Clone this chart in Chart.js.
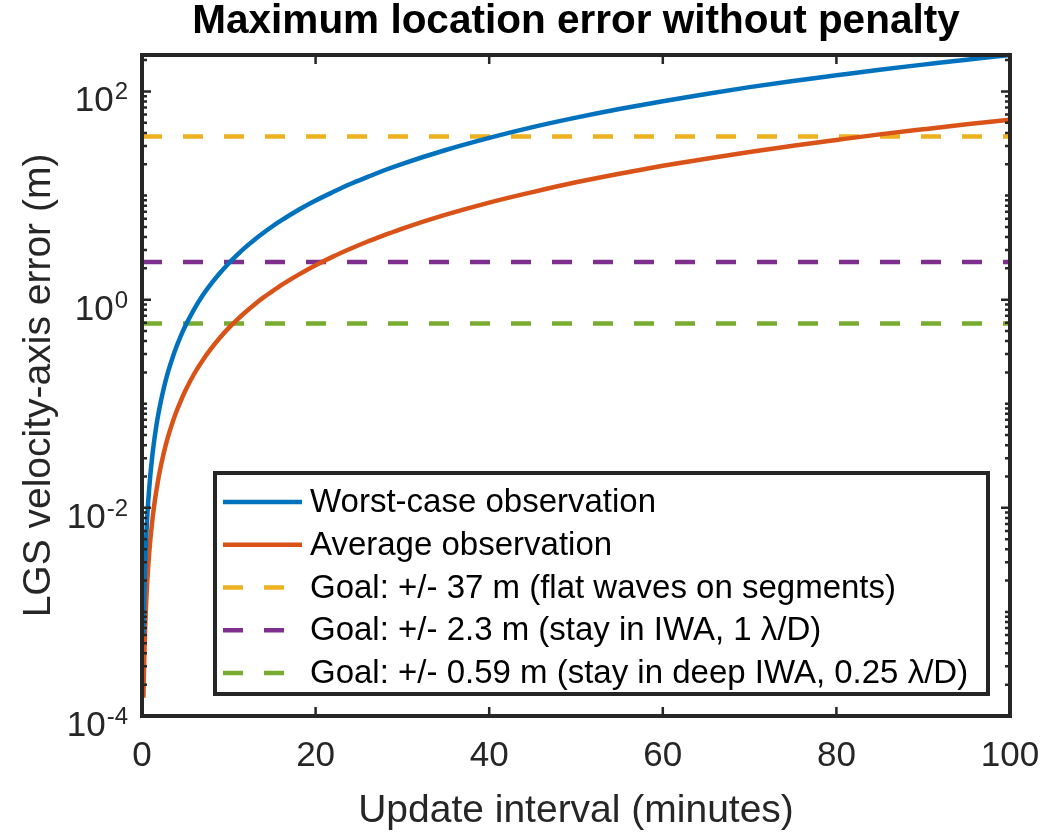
<!DOCTYPE html>
<html>
<head>
<meta charset="utf-8">
<script src="https://cdn.jsdelivr.net/npm/chart.js@4.4.1/dist/chart.umd.min.js"></script>
<style>
  html, body { margin: 0; padding: 0; background: #ffffff; }
  #wrap { width: 1046px; height: 835px; position: relative; }
</style>
</head>
<body>
<div id="wrap"><canvas id="c" width="1046" height="835"></canvas></div>
<script>
// Update interval in minutes
const intervalMinutes = [0.167, 0.2, 0.25, 0.3, 0.35, 0.4, 0.5, 0.6, 0.7, 0.8, 0.9, 1, 1.2, 1.4, 1.6, 1.8, 2,
  2.5, 3, 3.5, 4, 4.5, 5, 6, 7, 8, 9, 10, 11, 12, 13, 14, 15, 16, 18, 20, 22, 24, 26, 28, 30, 35, 40, 45, 50,
  55, 60, 65, 70, 75, 80, 85, 90, 95, 100];

// Location error along the LGS velocity axis (m)
const worstCaseError = [6.2e-4, 9.0e-4, 1.4e-3, 2.0e-3, 2.7e-3, 3.6e-3, 5.6e-3, 8.1e-3, 0.011, 0.0143, 0.0181,
  0.0224, 0.0323, 0.0439, 0.0573, 0.0726, 0.0896, 0.14, 0.202, 0.274, 0.358, 0.454, 0.56, 0.806, 1.10, 1.43,
  1.81, 2.24, 2.71, 3.23, 3.79, 4.39, 5.04, 5.73, 7.26, 8.96, 10.8, 12.9, 15.1, 17.6, 20.2, 27.4, 35.8, 45.4,
  56, 67.8, 80.6, 94.6, 110, 126, 143, 162, 181, 202, 224];
const averageError = [1.5e-4, 2.1e-4, 3.3e-4, 4.8e-4, 6.6e-4, 8.6e-4, 1.34e-3, 1.93e-3, 2.62e-3, 3.42e-3,
  4.33e-3, 5.35e-3, 7.7e-3, 0.0105, 0.0137, 0.0173, 0.0214, 0.0334, 0.0482, 0.0655, 0.0856, 0.108, 0.134,
  0.193, 0.262, 0.342, 0.433, 0.535, 0.647, 0.770, 0.904, 1.05, 1.20, 1.37, 1.73, 2.14, 2.59, 3.08, 3.62,
  4.19, 4.82, 6.55, 8.56, 10.8, 13.4, 16.2, 19.3, 22.6, 26.2, 30.1, 34.2, 38.7, 43.3, 48.3, 53.5];

// Error goals (m)
const goalLevels = [37, 2.3, 0.59];
const goalLabels = [
  'Goal: +/- 37 m (flat waves on segments)',
  'Goal: +/- 2.3 m (stay in IWA, 1 \u03BB/D)',
  'Goal: +/- 0.59 m (stay in deep IWA, 0.25 \u03BB/D)'
];
const seriesLabels = ['Worst-case observation', 'Average observation'];

// Axis ranges and labelled ticks
const xRange = [0, 100];
const xTickStep = 20;
const yRange = [1e-4, 224];
const yLabelExponents = [-4, -2, 0, 2];

const FONT = "'Liberation Sans', Arial, Helvetica, sans-serif";
const AXIS_COLOR = '#262626';
const COLORS = ['#0072BD', '#D95319', '#EDB120', '#7E2F8E', '#77AC30'];

const curve = (ys) => intervalMinutes.map((x, i) => ({ x: x, y: ys[i] }));
const flat = (v) => [{ x: xRange[0], y: v }, { x: xRange[1], y: v }];

const datasets = [
  { label: seriesLabels[0], data: curve(worstCaseError), borderColor: COLORS[0] },
  { label: seriesLabels[1], data: curve(averageError), borderColor: COLORS[1] }
].concat(goalLevels.map((v, i) => ({
  label: goalLabels[i], data: flat(v), borderColor: COLORS[2 + i], borderDash: [20, 21]
}))).map(d => Object.assign({
  borderWidth: 4.5, pointRadius: 0, fill: false, cubicInterpolationMode: 'monotone', clip: 3
}, d));

// Box, inward ticks, superscript y labels and boxed legend
const matlabFrame = {
  id: 'matlabFrame',
  afterDatasetsDraw(chart) {
    const ctx = chart.ctx;
    const { left, right, top, bottom } = chart.chartArea;
    const xs = chart.scales.x, ys = chart.scales.y;
    ctx.save();
    ctx.strokeStyle = AXIS_COLOR;
    ctx.setLineDash([]);

    // ticks
    ctx.lineWidth = 2.5;
    const major = 9, minor = 5;
    ctx.beginPath();
    for (let v = xRange[0] + xTickStep; v < xRange[1]; v += xTickStep) {
      const px = xs.getPixelForValue(v);
      ctx.moveTo(px, bottom); ctx.lineTo(px, bottom - major);
      ctx.moveTo(px, top); ctx.lineTo(px, top + major);
    }
    for (let k = -4; k <= 2; k++) {
      for (let m = 1; m <= 9; m++) {
        const v = m * Math.pow(10, k);
        if (v <= yRange[0] || v >= yRange[1]) continue;
        const len = (m === 1 && yLabelExponents.includes(k)) ? major : minor;
        const py = ys.getPixelForValue(v);
        ctx.moveTo(left, py); ctx.lineTo(left + len, py);
        ctx.moveTo(right, py); ctx.lineTo(right - len, py);
      }
    }
    ctx.stroke();

    // axes box
    ctx.lineWidth = 4;
    ctx.strokeRect(left, top, right - left, bottom - top);

    // y tick labels 10^k
    ctx.fillStyle = AXIS_COLOR;
    ctx.textBaseline = 'alphabetic';
    yLabelExponents.forEach(k => {
      const py = ys.getPixelForValue(Math.pow(10, k));
      const xEnd = left - 14;
      ctx.font = '24px ' + FONT;
      const e = String(k);
      const ew = ctx.measureText(e).width;
      ctx.textAlign = 'left';
      ctx.fillText(e, xEnd - ew, py + 8);
      ctx.font = '35px ' + FONT;
      ctx.textAlign = 'right';
      ctx.fillText('10', xEnd - ew - 1, py + 20);
    });

    // legend
    const lg = { x: 215, y: 473, w: 773, h: 221 };
    ctx.fillStyle = '#ffffff';
    ctx.fillRect(lg.x, lg.y, lg.w, lg.h);
    ctx.lineWidth = 4;
    ctx.strokeStyle = AXIS_COLOR;
    ctx.strokeRect(lg.x, lg.y, lg.w, lg.h);
    const rowH = 42.75;
    chart.data.datasets.forEach((d, i) => {
      const cy = lg.y + 29 + i * rowH;
      ctx.strokeStyle = d.borderColor;
      ctx.lineWidth = d.borderWidth;
      ctx.setLineDash(d.borderDash || []);
      ctx.beginPath();
      ctx.moveTo(lg.x + 8, cy);
      ctx.lineTo(lg.x + 87, cy);
      ctx.stroke();
      ctx.setLineDash([]);
      ctx.fillStyle = '#000000';
      ctx.font = '33px ' + FONT;
      ctx.textAlign = 'left';
      ctx.textBaseline = 'middle';
      ctx.fillText(d.label, lg.x + 95, cy + 1);
    });
    ctx.restore();
  }
};

new Chart(document.getElementById('c'), {
  type: 'line',
  data: { datasets: datasets },
  plugins: [matlabFrame],
  options: {
    responsive: false,
    devicePixelRatio: 1,
    animation: false,
    layout: { padding: { left: 0, right: 36, top: 0, bottom: 0 } },
    plugins: {
      legend: { display: false },
      tooltip: { enabled: false },
      title: {
        display: true,
        text: 'Maximum location error without penalty',
        color: '#000000',
        fullSize: false,
        font: { family: FONT, size: 40.5, weight: 'bold', lineHeight: 1 },
        padding: { top: 2, bottom: 12.5 }
      }
    },
    scales: {
      x: {
        type: 'linear',
        position: 'bottom',
        min: xRange[0], max: xRange[1],
        grid: { display: false, drawTicks: false },
        border: { display: false },
        ticks: { stepSize: xTickStep, color: AXIS_COLOR, padding: 0, maxRotation: 0,
          font: { family: FONT, size: 35, lineHeight: 2.3 } },
        title: { display: true, text: 'Update interval (minutes)', color: AXIS_COLOR,
          font: { family: FONT, size: 39 }, padding: { top: 0, bottom: 0 } },
        afterFit(scale) { scale.height = 119; }
      },
      y: {
        type: 'logarithmic',
        position: 'left',
        min: yRange[0], max: yRange[1],
        grid: { display: false, drawTicks: false },
        border: { display: false },
        ticks: { callback: () => '', font: { family: FONT, size: 35 } },
        title: { display: true, text: 'LGS velocity-axis error (m)', color: AXIS_COLOR,
          font: { family: FONT, size: 39 }, padding: { top: 16, bottom: 0 } },
        afterFit(scale) { scale.width = 142; }
      }
    }
  }
});
</script>
</body>
</html>
